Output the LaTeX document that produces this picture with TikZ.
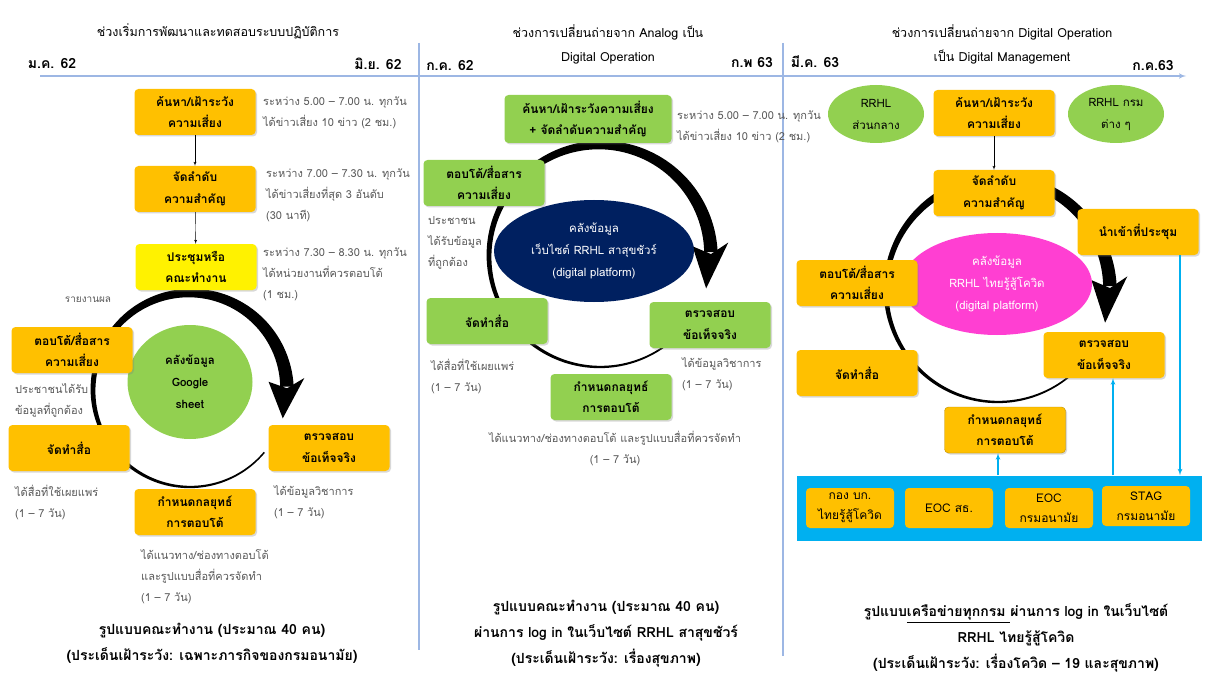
\documentclass[tikz,border=0pt]{standalone}
\usepackage{fontspec}
\setmainfont{Loma}[Script=Thai]
\usepackage{xcolor}
\usetikzlibrary{shapes,arrows,shadows}
\definecolor{boxorange}{HTML}{FFC000}
\definecolor{boxgreen}{HTML}{92D050}
\definecolor{navystore}{HTML}{002060}
\definecolor{pinkstore}{HTML}{FF3FD2}
\definecolor{panelblue}{HTML}{00B0F0}
\definecolor{lineblue}{HTML}{9DB7E4}
\definecolor{notegray}{HTML}{595959}
\tikzset{box/.style = {shape=rectangle,rounded corners=4pt,fill=boxorange,minimum width=121pt,minimum height=46pt,align=center,font=\bfseries\fontsize{12}{21.5}\selectfont,drop shadow={shadow xshift=1.5pt,shadow yshift=-1.5pt,opacity=0.3}}}
\tikzset{unit/.style = {shape=rectangle,rounded corners=4pt,fill=boxorange,minimum width=88pt,minimum height=40pt,inner sep=1pt,align=center,font=\fontsize{12}{20}\selectfont}}
\tikzset{store/.style = {shape=ellipse,inner sep=0pt,align=center,font=\fontsize{11.5}{22}\selectfont}}
\tikzset{note/.style = {anchor=west,inner sep=0pt,align=left,text=notegray,font=\fontsize{11}{21}\selectfont}}
\tikzset{heading/.style = {align=center,font=\fontsize{12.5}{24}\selectfont}}
\tikzset{period/.style = {font=\bfseries\fontsize{14}{16}\selectfont}}
\tikzset{summary/.style = {align=center,font=\bfseries\fontsize{14}{26}\selectfont}}
\tikzset{edge/.style = {->,> = latex'}}
\tikzset{blink/.style = {->,> = latex',draw=panelblue,line width=1.2pt}}
% tapered cycle arrow: centre x, centre y, radius
\newcommand{\cyclearrow}[3]{%
	\fill[shift={(#1,#2)}] plot[domain=40:358,samples=90,smooth] ({(#3+hw((\x-40)/318))*cos(\x)},{(#3+hw((\x-40)/318))*sin(\x)})
		-- plot[domain=358:40,samples=90,smooth] ({(#3-hw((\x-40)/318))*cos(\x)},{(#3-hw((\x-40)/318))*sin(\x)}) -- cycle;
	\fill[shift={(#1,#2)}] ({354}:{#3+18}) -- ({377}:{#3}) -- ({354}:{#3-18}) -- ({359}:{#3}) -- cycle;
}

\begin{document}
\begin{tikzpicture}[x=1pt,y=-1pt,declare function={hw(\t)=0.75+2*\t+4*\t*\t;}]
	\useasboundingbox[fill=white] (0,0) rectangle (1210,679);
	% timeline
	\coordinate (t0) at (40,76);
	\coordinate (t1) at (1186,76);
	\coordinate (v0) at (419,43);
	\coordinate (v1) at (419,650);
	\coordinate (w0) at (783,43);
	\coordinate (w1) at (783,656);
	\draw[lineblue,line width=1.2pt] (v0) -- (v1);
	\draw[lineblue,line width=1.2pt] (w0) -- (w1);
	\draw[lineblue,line width=1.4pt,-latex'] (t0) -- (t1);
	% section 1
	\node[heading] (h1) at (218,31) {ช่วงเริ่มการพัฒนาและทดสอบระบบปฏิบัติการ};
	\node[period] (d1) at (52,64) {ม.ค. 62};
	\node[period] (d2) at (378,64) {มิ.ย. 62};
	\cyclearrow{190}{390}{97}
	\node[store,fill=boxgreen,font=\bfseries\fontsize{11.5}{22}\selectfont,minimum width=125pt,minimum height=114pt] (g1) at (190,382) {คลังข้อมูล\\Google\\sheet};
	\node[box] (a1) at (195,112) {ค้นหา/เฝ้าระวัง\\ความเสี่ยง};
	\node[box] (a2) at (195,189) {จัดลำดับ\\ความสำคัญ};
	\node[box,fill=yellow] (a3) at (196,267) {ประชุมหรือ\\คณะทำงาน};
	\node[box] (a4) at (72,350) {ตอบโต้/สื่อสาร\\ความเสี่ยง};
	\node[box] (a5) at (69,448) {จัดทำสื่อ};
	\node[box] (a6) at (329,448) {ตรวจสอบ\\ข้อเท็จจริง};
	\node[box] (a7) at (195,512) {กำหนดกลยุทธ์\\การตอบโต้};
	\node[note] (n1) at (263,113) {ระหว่าง 5.00 – 7.00 น. ทุกวัน\\ได้ข่าวเสี่ยง 10 ข่าว (2 ชม.)};
	\node[note] (n2) at (266,195) {ระหว่าง 7.00 – 7.30 น. ทุกวัน\\ได้ข่าวเสี่ยงที่สุด 3 อันดับ\\(30 นาที)};
	\node[note] (n3) at (263,274) {ระหว่าง 7.30 – 8.30 น. ทุกวัน\\ได้หน่วยงานที่ควรตอบโต้\\(1 ชม.)};
	\node[note,anchor=center,font=\fontsize{10}{12}\selectfont] (n4) at (88,300) {รายงานผล};
	\node[note] (n5) at (15,400) {ประชาชนได้รับ\\ข้อมูลที่ถูกต้อง};
	\node[note] (n6) at (15,502) {ได้สื่อที่ใช้เผยแพร่\\(1 – 7 วัน)};
	\node[note] (n7) at (274,502) {ได้ข้อมูลวิชาการ\\(1 – 7 วัน)};
	\node[note] (n8) at (141,577) {ได้แนวทาง/ช่องทางตอบโต้\\และรูปแบบสื่อที่ควรจัดทำ\\(1 – 7 วัน)};
	\node[summary] (s1) at (212,643) {รูปแบบคณะทำงาน (ประมาณ 40 คน)\\(ประเด็นเฝ้าระวัง: เฉพาะภารกิจของกรมอนามัย)};
	\draw[edge] (a1) to (a2);
	\draw[edge] (a2) to (a3);
	% section 2
	\node[heading] (h2) at (608,44) {ช่วงการเปลี่ยนถ่ายจาก Analog เป็น\\Digital Operation};
	\node[period] (d3) at (450,66) {ก.ค. 62};
	\node[period] (d4) at (752,63) {ก.พ 63};
	\cyclearrow{600}{256}{111}
	\node[store,fill=navystore,text=white,minimum width=200pt,minimum height=102pt] (g2) at (594,251) {คลังข้อมูล\\เว็บไซต์ RRHL สาสุขชัวร์\\(digital platform)};
	\node[box,fill=boxgreen,minimum width=167pt,minimum height=48pt] (b1) at (588,119) {ค้นหา/เฝ้าระวังความเสี่ยง\\+ จัดลำดับความสำคัญ};
	\node[box,fill=boxgreen] (b2) at (484,183) {ตอบโต้/สื่อสาร\\ความเสี่ยง};
	\node[box,fill=boxgreen] (b3) at (487,321) {จัดทำสื่อ};
	\node[box,fill=boxgreen] (b4) at (710,325) {ตรวจสอบ\\ข้อเท็จจริง};
	\node[box,fill=boxgreen] (b5) at (611,397) {กำหนดกลยุทธ์\\การตอบโต้};
	\node[note] (m1) at (677,127) {ระหว่าง 5.00 – 7.00 น. ทุกวัน\\ได้ข่าวเสี่ยง 10 ข่าว (2 ชม.)};
	\node[note] (m2) at (428,243) {ประชาชน\\ได้รับข้อมูล\\ที่ถูกต้อง};
	\node[note] (m3) at (431,376) {ได้สื่อที่ใช้เผยแพร่\\(1 – 7 วัน)};
	\node[note] (m4) at (682,374) {ได้ข้อมูลวิชาการ\\(1 – 7 วัน)};
	\node[note,anchor=center,align=center] (m5) at (615,448) {ได้แนวทาง/ช่องทางตอบโต้ และรูปแบบสื่อที่ควรจัดทำ\\(1 – 7 วัน)};
	\node[summary] (s2) at (606,634) {รูปแบบคณะทำงาน (ประมาณ 40 คน)\\ผ่านการ log in ในเว็บไซต์ RRHL สาสุขชัวร์\\(ประเด็นเฝ้าระวัง: เรื่องสุขภาพ)};
	% section 3
	\node[heading] (h3) at (1002,44) {ช่วงการเปลี่ยนถ่ายจาก Digital Operation\\เป็น Digital Management};
	\node[period] (d5) at (815,62) {มี.ค. 63};
	\node[period] (d6) at (1153,66) {ก.ค.63};
	\cyclearrow{998}{290}{112}
	\node[store,fill=pinkstore,text=white,minimum width=190pt,minimum height=102pt] (g3) at (997,284) {คลังข้อมูล\\RRHL ไทยรู้สู้โควิด\\(digital platform)};
	\node[store,fill=boxgreen,font=\fontsize{11.5}{22}\selectfont,minimum width=96pt,minimum height=58pt] (r1) at (876,114) {RRHL\\ส่วนกลาง};
	\node[store,fill=boxgreen,font=\fontsize{11.5}{22}\selectfont,minimum width=96pt,minimum height=58pt] (r2) at (1116,114) {RRHL กรม\\ต่าง ๆ};
	\node[box] (c1) at (994,113) {ค้นหา/เฝ้าระวัง\\ความเสี่ยง};
	\node[box] (c2) at (994,193) {จัดลำดับ\\ความสำคัญ};
	\node[box] (c3) at (1138,232) {นำเข้าที่ประชุม};
	\node[box] (c4) at (857,283) {ตอบโต้/สื่อสาร\\ความเสี่ยง};
	\node[box] (c5) at (857,373) {จัดทำสื่อ};
	\node[box] (c6) at (1104,355) {ตรวจสอบ\\ข้อเท็จจริง};
	\node[box,draw=boxorange!75!black] (c7) at (1005,430) {กำหนดกลยุทธ์\\การตอบโต้};
	\node[fill=panelblue,minimum width=405pt,minimum height=65pt] (p0) at (999,508) {};
	\node[unit] (u1) at (850,508) {กอง บก.\\ไทยรู้สู้โควิด};
	\node[unit] (u2) at (949,508) {EOC สธ.};
	\node[unit] (u3) at (1049,508) {EOC\\กรมอนามัย};
	\node[unit] (u4) at (1146,506) {STAG\\กรมอนามัย};
	\node[summary] (s3) at (1016,638) {รูปแบบ\underline{เครือข่ายทุกกรม\ }ผ่านการ log in ในเว็บไซต์\\RRHL ไทยรู้สู้โควิด\\(ประเด็นเฝ้าระวัง: เรื่องโควิด – 19 และสุขภาพ)};
	%edges
	\draw[edge] (c1) to (c2);
	\draw[blink] ([xshift=-7]c7.south |- p0.north) to ([xshift=-7]c7.south);
	\draw[blink] ([xshift=9]c6.south |- p0.north) to ([xshift=9]c6.south);
	\draw[blink] ([xshift=42]c3.south) to ([xshift=42]c3.south |- p0.north);
\end{tikzpicture}
\end{document}
